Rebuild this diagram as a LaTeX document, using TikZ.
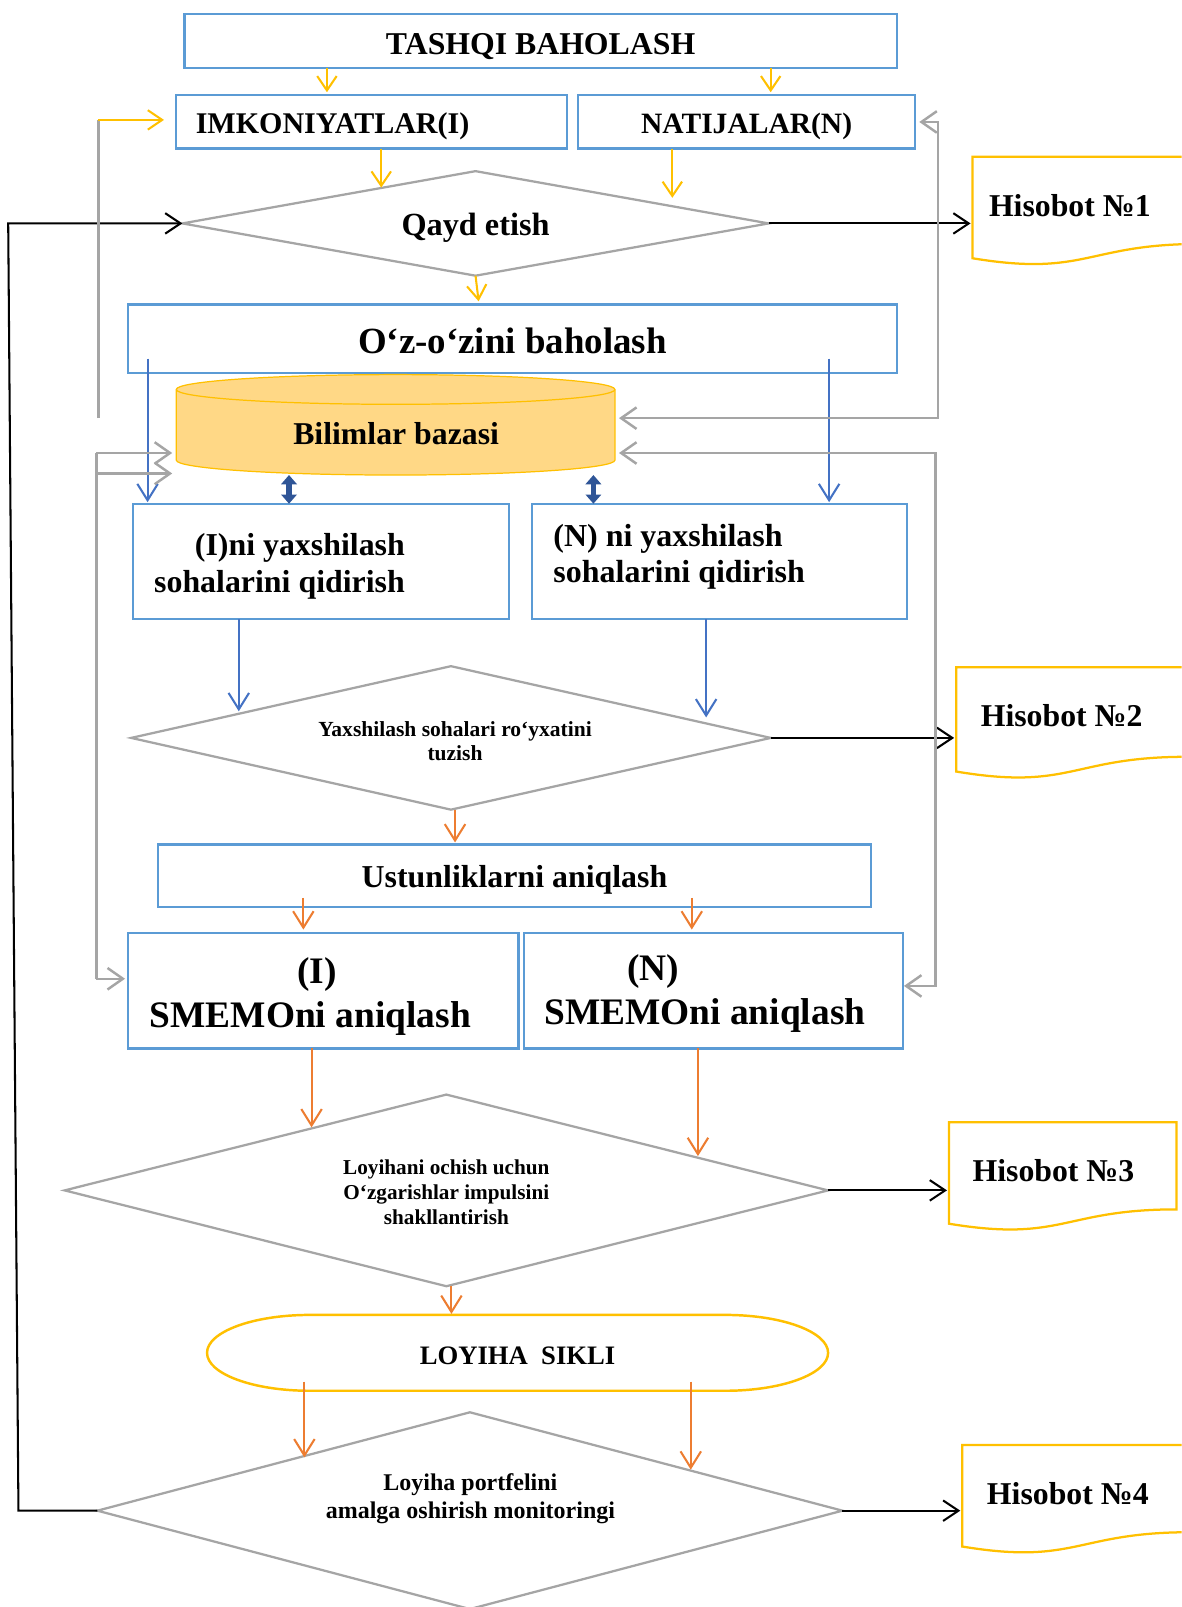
\documentclass[tikz,border=0pt]{standalone}
\usepackage{fontspec}
\setmainfont{Liberation Serif}
\usetikzlibrary{arrows.meta,shapes.geometric,calc}
\definecolor{boxblue}{HTML}{5B9BD5}
\definecolor{ygold}{HTML}{FFC000}
\definecolor{orng}{HTML}{ED7D31}
\definecolor{dgray}{HTML}{A5A5A5}
\definecolor{arblue}{HTML}{4472C4}
\definecolor{dkblue}{HTML}{2F5597}
\definecolor{cylfill}{HTML}{FFD886}
\newcommand\fsz[2]{\fontsize{#1pt}{#2pt}\selectfont\bfseries}
\newcommand\lowr[2]{\raisebox{-#1pt}[\height][\depth]{#2}}
\begin{document}
\begin{tikzpicture}[x=1pt,y=-1pt,
  bbox/.style={draw=boxblue,line width=2.2pt,inner sep=0pt,outer sep=0pt},
  dmd/.style={diamond,draw=dgray,line width=2.2pt,inner sep=0pt,outer sep=0pt,align=center},
  ghost/.style={inner sep=0pt,outer sep=0pt},
  yarr/.style={draw=ygold,line width=2pt,-{Straight Barb[length=14pt,width=19pt]}},
  barr/.style={draw=arblue,line width=2pt,-{Straight Barb[length=16pt,width=20pt]}},
  oarr/.style={draw=orng,line width=2pt,-{Straight Barb[length=16pt,width=20pt]}},
  karr/.style={draw=black,line width=2pt,-{Straight Barb[length=15pt,width=20pt]}},
  gline/.style={draw=dgray,line width=2.4pt},
  garr/.style={gline,-{Straight Barb[length=15pt,width=21pt]}},
  garr2/.style={gline,{Straight Barb[length=15pt,width=21pt]}-{Straight Barb[length=15pt,width=21pt]}},
  darr/.style={draw=dkblue,line width=5pt,{Triangle[length=9pt,width=15pt]}-{Triangle[length=9pt,width=15pt]}},
  docsh/.style={draw=ygold,line width=2.2pt,fill=white},
]
\useasboundingbox (0,0) rectangle (1153,1568);
\fill[white] (0,0) rectangle (1153,1568);
\clip (0,0) rectangle (1153,1568);

% ---------- nodes ----------
\node[bbox,minimum width=695pt,minimum height=52pt,font=\fsz{31}{36}] (tashqi) at (527.5,40) {\lowr{5}{TASHQI BAHOLASH}};
\node[bbox,minimum width=381pt,minimum height=52pt] (imk) at (362.5,119) {};
\node[ghost,font=\fsz{29.3}{34}] (imkt) at (324.5,123) {IMKONIYATLAR(I)};
\node[bbox,minimum width=329pt,minimum height=52pt,font=\fsz{28.8}{33}] (nat) at (728.5,119) {\lowr{4}{NATIJALAR(N)}};
\node[dmd,aspect=5.6,minimum width=572pt,minimum height=102pt,font=\fsz{31.5}{36}] (qayd) at (464,218) {\lowr{4}{Qayd etish}};
\node[bbox,minimum width=750pt,minimum height=67pt,font=\fsz{36}{42}] (ozb) at (500,330.5) {\lowr{2}{O‘z-o‘zini baholash}};

% cylinder
\node[ghost,minimum width=428pt,minimum height=69pt] (cyl) at (386,414.5) {};
\path[fill=cylfill,draw=ygold,line width=1.2pt] (cyl.north west) -- (cyl.south west)
  arc[start angle=180,end angle=0,x radius=214,y radius=14.5] -- (cyl.north east)
  arc[start angle=0,end angle=-180,x radius=214,y radius=14.5] -- cycle;
\draw[ygold,line width=1.2pt] (cyl.north west) arc[start angle=180,end angle=0,x radius=214,y radius=14.5];
\node[ghost,font=\fsz{31}{36}] (cylt) at (386.5,423) {Bilimlar bazasi};

\node[bbox,minimum width=367pt,minimum height=112pt] (iy) at (313.5,548) {};
\node[ghost,anchor=east,align=right,font=\fsz{31.1}{36}] (iyt) at (395,553) {(I)ni yaxshilash\\sohalarini qidirish};
\node[bbox,minimum width=366pt,minimum height=112pt] (ny) at (702,548) {};
\node[ghost,anchor=west,align=left,font=\fsz{31.2}{35}] (nyt) at (540,543.5) {(N) ni yaxshilash\\sohalarini qidirish};

\node[dmd,aspect=4.46,minimum width=624pt,minimum height=140pt] (yd) at (440,720) {};
\node[ghost,align=center,font=\fsz{21}{24}] (ydt) at (444,723) {Yaxshilash sohalari ro‘yxatini\\tuzish};

\node[bbox,minimum width=696pt,minimum height=61pt,font=\fsz{31.1}{36}] (ust) at (502,854.5) {\lowr{4}{Ustunliklarni aniqlash}};
\node[bbox,minimum width=381pt,minimum height=113pt] (smi) at (315.5,966.5) {};
\node[ghost,anchor=west,align=left,font=\fsz{36.5}{43}] (smit) at (146,972) {\hspace*{144pt}(I)\\SMEMOni aniqlash};
\node[bbox,minimum width=370pt,minimum height=113pt] (smn) at (696,966.5) {};
\node[ghost,anchor=west,align=left,font=\fsz{36.5}{43}] (smnt) at (531,969) {\hspace*{81pt}(N)\\SMEMOni aniqlash};

\node[dmd,aspect=3.98,minimum width=745pt,minimum height=187pt,font=\fsz{20.7}{24.5}] (ld) at (435.5,1161.5) {\lowr{1.5}{Loyihani ochish uchun}\\\lowr{1.5}{O‘zgarishlar impulsini}\\\lowr{1.5}{shakllantirish}};

\node[ghost,minimum width=606pt,minimum height=74pt,font=\fsz{26}{30}] (loy) at (505,1320) {\lowr{3}{LOYIHA\ \ SIKLI}};
\draw[ygold,line width=2.4pt] ([xshift=100pt]loy.north west) -- ([xshift=-100pt]loy.north east)
  arc[start angle=-90,end angle=90,x radius=100,y radius=37] -- ([xshift=100pt]loy.south west)
  arc[start angle=90,end angle=270,x radius=100,y radius=37] -- cycle;

\node[dmd,minimum width=727pt,minimum height=192pt] (pd) at (458.5,1474) {};
\node[ghost,align=center,font=\fsz{23.4}{27}] (pdt) at (459,1462.5) {Loyiha portfelini\\amalga oshirish monitoringi};

% report documents
\foreach \n/\cx/\cy/\w/\h/\tx/\ty/\k in {h1/1060/206/222/106/965/201/1, h2/1045.5/705.5/225/109/957/698/2, h3/1037/1148/222/106/949/1142/3, h4/1050/1463/222/106/963/1457/4}{
  \node[ghost,minimum width=\w pt,minimum height=\h pt] (\n) at (\cx,\cy) {};
  \draw[docsh] (\n.north west) -- (\n.north east) -- ($(\n.north east)!0.802!(\n.south east)$)
    .. controls ($(\n.north)!0.802!(\n.south)$) and ($(\n.north)!1.107!(\n.south)$) ..
    ($(\n.north west)!0.934!(\n.south west)$) -- cycle;
  \node[ghost,anchor=west,font=\fsz{31}{36}] (\n t) at (\tx,\ty) {Hisobot №\k};
}

% ---------- yellow connectors ----------
\draw[yarr] ([xshift=-208.5pt]tashqi.south) -- ++(0,24);
\draw[yarr] ([xshift=224.5pt]tashqi.south) -- ++(0,24);
\draw[yarr] ([xshift=9.5pt]imk.south) -- ++(0,38);
\draw[yarr] ([xshift=-72.5pt]nat.south) -- ++(0,48);
\draw[yarr] (qayd.south) -- ++(3,25);

% ---------- blue connectors ----------
\draw[barr] ([xshift=19pt,yshift=14pt]ozb.south west) -- ++(0,140);
\draw[barr] ([xshift=-66pt,yshift=14pt]ozb.south east) -- ++(0,140);
\draw[barr] ([xshift=-80.5pt]iy.south) -- ++(0,90);
\draw[barr] ([xshift=-13pt]ny.south) -- ++(0,96);
\draw[darr] ([xshift=-104pt,yshift=-14.5pt]cyl.south) -- ++(0,28);
\draw[darr] ([xshift=193pt,yshift=-14.5pt]cyl.south) -- ++(0,28);

% ---------- orange connectors ----------
\draw[oarr,shorten >=2pt] ([xshift=4pt]yd.south) -- ([xshift=4pt]yd.south |- ust.north);
\draw[oarr] ([xshift=-206pt,yshift=9pt]ust.south) -- ++(0,31);
\draw[oarr] ([xshift=173pt,yshift=9pt]ust.south) -- ++(0,31);
\draw[oarr] ([xshift=-11.5pt]smi.south) -- ++(0,77);
\draw[oarr] ([xshift=-15pt]smn.south) -- ++(0,105);
\draw[oarr,shorten >=1pt] ([xshift=5pt]ld.south) -- ([xshift=5pt]ld.south |- loy.north);
\draw[oarr] ([xshift=-208pt,yshift=9pt]loy.south) -- ++(0,74);
\draw[oarr] ([xshift=169pt,yshift=9pt]loy.south) -- ++(0,86);

% ---------- black connectors ----------
\draw[karr,shorten >=2pt] (qayd.east) -- (qayd.east -| h1.west);
\draw[karr,shorten >=2pt] (yd.east) -- (yd.east -| h2.west);
\draw[karr,shorten >=2pt] (ld.east) -- (ld.east -| h3.west);
\draw[karr,shorten >=2pt] (pd.east) -- (pd.east -| h4.west);
\coordinate (fb1) at (18,1474);
\coordinate (fb2) at (8,218);
\draw[karr] (pd.west) -- (fb1) -- (fb2) -- (qayd.west);

% ---------- gray feedback connectors ----------
\coordinate (gL1) at (96,408);
\coordinate (gL1t) at (96,117);
\draw[gline] (gL1) -- (gL1t);
\draw[yarr,shorten >=12pt] (gL1t) -- ([yshift=2pt]imk.west);

\coordinate (gL2a) at (94,442);
\coordinate (gL2m) at (94,462);
\coordinate (gL2b) at (94,955);
\draw[gline] (gL2a) -- (gL2b);
\draw[garr,shorten >=4pt] (gL2a) -- (gL2a -| cyl.west);
\draw[garr,shorten >=4pt] (gL2m) -- (gL2m -| cyl.west);
\draw[garr,shorten >=3pt] (gL2b) -- (gL2b -| smi.west);

\coordinate (gR1t) at (915,119);
\coordinate (gR1b) at (915,408);
\draw[garr2,shorten <=4pt,shorten >=4pt] (nat.east) -- (gR1t) -- (gR1b) -- (gR1b -| cyl.east);
\coordinate (gR2t) at (913,442);
\coordinate (gR2b) at (913,962);
\draw[garr2,shorten <=4pt,shorten >=1pt] (gR2t -| cyl.east) -- (gR2t) -- (gR2b) -- (gR2b -| smn.east);
\end{tikzpicture}
\end{document}
